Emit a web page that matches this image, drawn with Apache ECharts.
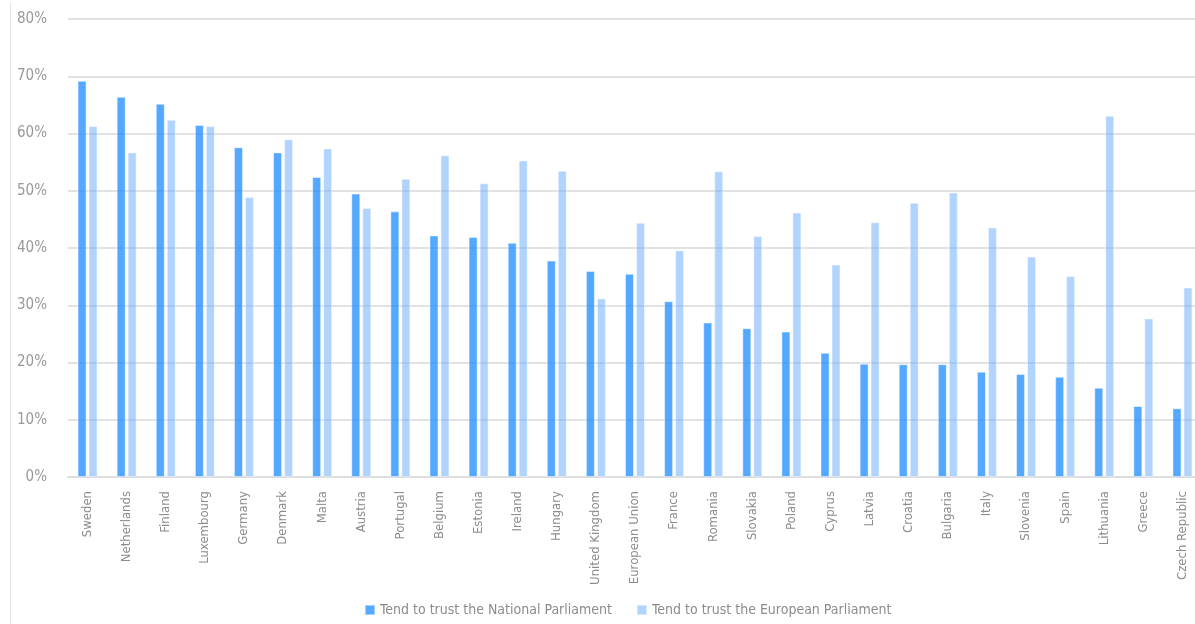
<!DOCTYPE html>
<html>
<head>
<meta charset="utf-8">
<script src="https://cdn.jsdelivr.net/npm/echarts@6/dist/echarts.min.js"></script>
<style>
  html, body { margin: 0; padding: 0; background: #fff; overflow: hidden; }
  #chart { width: 1202px; height: 624px; }
</style>
</head>
<body>
<div id="chart"></div>
<script>
const countries = ['Sweden', 'Netherlands', 'Finland', 'Luxembourg', 'Germany', 'Denmark', 'Malta', 'Austria',
  'Portugal', 'Belgium', 'Estonia', 'Ireland', 'Hungary', 'United Kingdom', 'European Union', 'France',
  'Romania', 'Slovakia', 'Poland', 'Cyprus', 'Latvia', 'Croatia', 'Bulgaria', 'Italy', 'Slovenia', 'Spain',
  'Lithuania', 'Greece', 'Czech Republic'];

// Tend to trust the National Parliament (%)
const nationalParl = [69.2, 66.4, 65.2, 61.5, 57.6, 56.7, 52.4, 49.5, 46.4, 42.2, 41.9, 40.9, 37.8, 36.0,
  35.5, 30.7, 27.0, 26.0, 25.4, 21.7, 19.8, 19.7, 19.7, 18.4, 18.0, 17.5, 15.6, 12.4, 12.0];

// Tend to trust the European Parliament (%)
const europeanParl = [61.3, 56.7, 62.4, 61.3, 48.9, 59.0, 57.4, 47.0, 52.1, 56.2, 51.3, 55.3, 53.5, 31.2,
  44.4, 39.6, 53.4, 42.1, 46.2, 37.1, 44.5, 47.9, 49.7, 43.6, 38.5, 35.1, 63.1, 27.7, 33.1];

const seriesNames = ['Tend to trust the National Parliament', 'Tend to trust the European Parliament'];

const font = "'Liberation Sans Narrow', 'DejaVu Sans Condensed', sans-serif";

const chart = echarts.init(document.getElementById('chart'));

chart.setOption({
  animation: false,
  textStyle: { fontFamily: font },
  grid: { left: 68, right: 0, top: 19, bottom: 147, containLabel: false },
  legend: {
    bottom: 2,
    left: 359,
    itemWidth: 10,
    itemHeight: 10,
    itemGap: 24,
    icon: 'rect',
    textStyle: { fontFamily: font, fontSize: 14, color: '#8c8c8c' },
    data: seriesNames
  },
  graphic: [{
    type: 'line',
    shape: { x1: 10.5, y1: 3, x2: 10.5, y2: 624 },
    style: { stroke: '#e3e3e3', lineWidth: 1 }
  }],
  xAxis: {
    type: 'category',
    data: countries,
    axisLine: { show: true, lineStyle: { color: '#dedede', width: 2 } },
    axisTick: { show: false },
    axisLabel: {
      rotate: 90,
      interval: 0,
      margin: 14,
      fontFamily: font,
      fontSize: 13,
      color: '#8c8c8c'
    }
  },
  yAxis: {
    type: 'value',
    min: 0,
    max: 80,
    interval: 10,
    axisLine: { show: false },
    axisTick: { show: false },
    splitLine: { lineStyle: { color: '#e2e2e2', width: 2 } },
    axisLabel: {
      formatter: '{value}%',
      margin: 21,
      fontFamily: font,
      fontSize: 15,
      color: '#999999'
    }
  },
  series: [
    {
      name: seriesNames[0],
      type: 'bar',
      data: nationalParl,
      barWidth: 9,
      barGap: '22%',
      itemStyle: { color: 'rgba(30,140,255,0.76)', borderColor: 'rgba(255,255,255,0.45)', borderWidth: 1 }
    },
    {
      name: seriesNames[1],
      type: 'bar',
      data: europeanParl,
      barWidth: 9,
      itemStyle: { color: 'rgba(100,170,255,0.5)', borderColor: 'rgba(255,255,255,0.45)', borderWidth: 1 }
    }
  ]
});
</script>
</body>
</html>
